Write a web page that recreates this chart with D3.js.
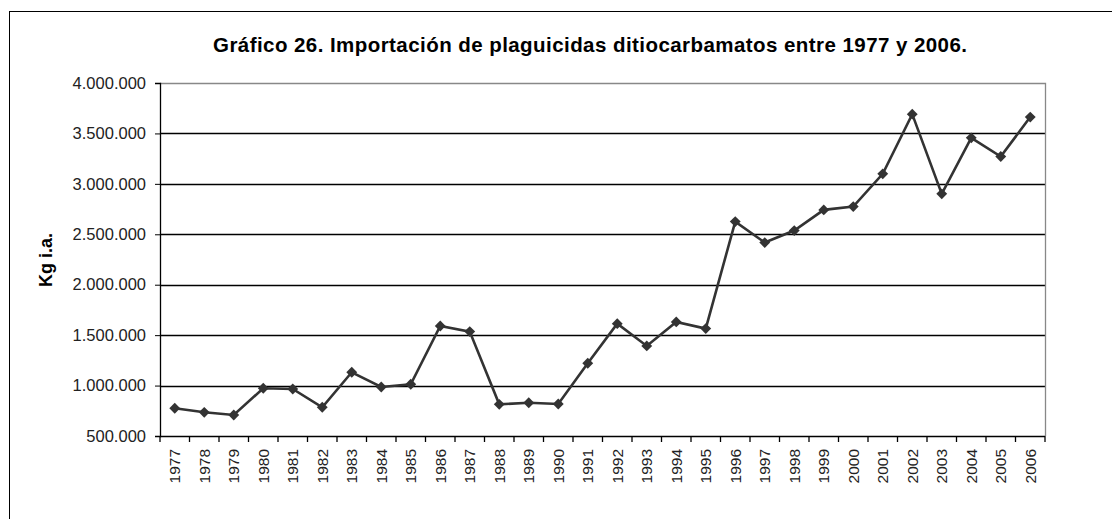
<!DOCTYPE html>
<html>
<head>
  <meta charset="utf-8">
  <title>Importación de plaguicidas ditiocarbamatos</title>
  <script src="https://d3js.org/d3.v7.min.js"></script>
  <style>
    body { margin: 0; background: #fff; }
    text { font-family: "Liberation Sans", Arial, sans-serif; }
  </style>
</head>
<body>
<div id="chart"></div>
<script>
// data
const years = ["1977","1978","1979","1980","1981","1982","1983","1984","1985","1986",
  "1987","1988","1989","1990","1991","1992","1993","1994","1995","1996",
  "1997","1998","1999","2000","2001","2002","2003","2004","2005","2006"];
const kg = [775000, 735000, 708000, 973000, 966000, 785000, 1132000, 986000, 1013000, 1591000,
  1535000, 814000, 830000, 817000, 1221000, 1614000, 1393000, 1631000, 1565000, 2626000,
  2418000, 2537000, 2742000, 2775000, 3099000, 3691000, 2901000, 3456000, 3271000, 3662000];
const yTicks = [500000, 1000000, 1500000, 2000000, 2500000, 3000000, 3500000, 4000000];
const title = "Gráfico 26. Importación de plaguicidas ditiocarbamatos entre 1977 y 2006.";
const yLabel = "Kg i.a.";

const width = 1112, height = 519;
const margin = { top: 83, right: 67, bottom: 83, left: 160 };

const svg = d3.select("#chart").append("svg")
  .attr("width", width)
  .attr("height", height);

// outer frame (runs off the right and bottom edges)
svg.append("rect")
  .attr("x", 9.5).attr("y", 11.5)
  .attr("width", 1200).attr("height", 600)
  .attr("fill", "none").attr("stroke", "#000").attr("stroke-width", 1);

const x = d3.scaleBand()
  .domain(years)
  .range([margin.left, width - margin.right]);

const y = d3.scaleLinear()
  .domain([500000, 4000000])
  .range([height - margin.bottom, margin.top]);

const fmt = v => d3.format(",")(v).replace(/,/g, ".");

// gridlines
svg.append("g")
  .selectAll("line")
  .data(yTicks.slice(1, -1))
  .join("line")
  .attr("x1", margin.left).attr("x2", width - margin.right)
  .attr("y1", d => Math.round(y(d)) + 0.5).attr("y2", d => Math.round(y(d)) + 0.5)
  .attr("stroke", "#000").attr("stroke-width", 1.3);

// plot border top/right in grey
svg.append("path")
  .attr("d", `M${margin.left},${Math.round(y(4000000)) + 0.5}H${width - margin.right + 0.5}V${height - margin.bottom}`)
  .attr("fill", "none").attr("stroke", "#888").attr("stroke-width", 1.3);

// y axis
const yAxis = svg.append("g")
  .attr("transform", `translate(${margin.left},0)`)
  .call(d3.axisLeft(y).tickValues(yTicks).tickFormat(fmt).tickSize(5).tickPadding(9));
yAxis.select(".domain").attr("stroke", "#000").attr("stroke-width", 1.3);
yAxis.selectAll(".tick line").attr("stroke", "#000");
yAxis.selectAll("text")
  .attr("font-size", 16.5)
  .attr("font-family", "Liberation Sans, Arial, sans-serif")
  .attr("fill", "#222");

// x axis: ticks at category boundaries
const xAxisY = height - margin.bottom;
svg.append("line")
  .attr("x1", margin.left).attr("x2", width - margin.right)
  .attr("y1", xAxisY + 0.5).attr("y2", xAxisY + 0.5)
  .attr("stroke", "#000").attr("stroke-width", 1.3);
svg.append("g")
  .selectAll("line")
  .data(years.concat(["end"]))
  .join("line")
  .attr("x1", (d, i) => i < years.length ? x(d) : x.range()[1])
  .attr("x2", (d, i) => i < years.length ? x(d) : x.range()[1])
  .attr("y1", xAxisY).attr("y2", xAxisY + 6)
  .attr("stroke", "#000").attr("stroke-width", 1.3);

svg.append("g")
  .selectAll("text")
  .data(years)
  .join("text")
  .attr("transform", d => `translate(${x(d) + x.bandwidth() / 2 + 5.5},${xAxisY + 13}) rotate(-90)`)
  .attr("text-anchor", "end")
  .attr("font-size", 15.5)
  .attr("fill", "#222")
  .text(d => d);

// line + markers
const line = d3.line()
  .x((d, i) => x(years[i]) + x.bandwidth() / 2)
  .y(d => y(d));

svg.append("path")
  .datum(kg)
  .attr("d", line)
  .attr("fill", "none")
  .attr("stroke", "#333")
  .attr("stroke-width", 2.6);

svg.append("g")
  .selectAll("path")
  .data(kg)
  .join("path")
  .attr("transform", (d, i) => `translate(${x(years[i]) + x.bandwidth() / 2},${y(d)})`)
  .attr("d", d3.symbol().type(d3.symbolDiamond2).size(75))
  .attr("fill", "#333");

// title
svg.append("text")
  .attr("x", 590).attr("y", 52)
  .attr("text-anchor", "middle")
  .attr("font-size", 20.5)
  .attr("font-weight", "bold")
  .attr("textLength", 754)
  .attr("lengthAdjust", "spacing")
  .attr("fill", "#000")
  .text(title);

// y label
svg.append("text")
  .attr("transform", "translate(52,260) rotate(-90)")
  .attr("text-anchor", "middle")
  .attr("font-size", 18)
  .attr("font-weight", "bold")
  .attr("fill", "#000")
  .text(yLabel);
</script>
</body>
</html>
